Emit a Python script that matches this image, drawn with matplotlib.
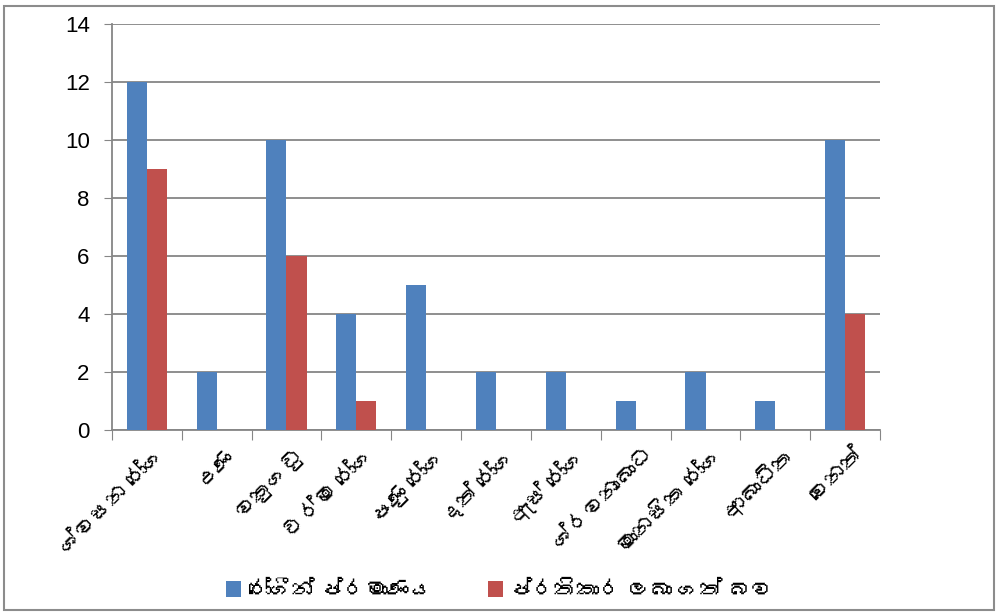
import matplotlib
matplotlib.use("Agg")
import matplotlib.pyplot as plt
from matplotlib import font_manager
from matplotlib.ft2font import FT2Font
from matplotlib.patches import Rectangle
import numpy as np

categories = ["ශ්වසන රෝග", "උණ", "වකුගඩු", "චර්ම රෝග", "පණු රෝග", "දත් රෝග",
              "ඇස් රෝග", "ශ්රවනාබාධ", "මානසික රෝග", "ආබාධිත", "වෙනත්"]
patients = [12, 2, 10, 4, 5, 2, 2, 1, 2, 1, 10]
treated = [9, 0, 6, 1, 0, 0, 0, 0, 0, 0, 4]
series_names = ["රෝගීන් ප්රමාණය", "ප්රතිකාර ලබා ගත් බව"]
yticks = [0, 2, 4, 6, 8, 10, 12, 14]


def findSinhalaFont():
	# look for any installed font that actually has Sinhala glyphs
	for f in font_manager.fontManager.ttflist:
		try:
			cmap = FT2Font(f.fname).get_charmap()
		except Exception:
			continue
		if 0x0DC1 in cmap and 0x0DBB in cmap:
			return f.name
	return None


sinhala = findSinhalaFont()
families = ["Liberation Sans", "DejaVu Sans"]
if sinhala:
	families = ["Liberation Sans", sinhala, "DejaVu Sans"]
plt.rcParams['font.family'] = families

fig = plt.figure(figsize=(9.99, 6.16), dpi=100)
ax = fig.add_axes([0.112, 0.302, 0.769, 0.659])

x = np.arange(len(categories))
w = 0.287
ax.bar(x - w / 2, patients, w, color='#4F81BD', label=series_names[0], zorder=3)
ax.bar(x + w / 2, treated, w, color='#C0504D', label=series_names[1], zorder=3)

ax.set_xlim(-0.5, len(categories) - 0.5)
ax.set_ylim(0, 14)
ax.set_yticks(yticks)
ax.tick_params(axis='y', labelsize=16, length=6, color='#868686', pad=10)
ax.yaxis.grid(True, color='#868686', linewidth=1.3, zorder=0)

ax.set_xticks(np.arange(len(categories) + 1) - 0.5)
ax.set_xticklabels([])
ax.tick_params(axis='x', length=7, color='#868686')
for i, name in enumerate(categories):
	ax.text(i + 0.12, -0.5, name, rotation=45, ha='right', va='top',
		rotation_mode='anchor', fontsize=16, transform=ax.transData)

for side in ['top', 'right']:
	ax.spines[side].set_visible(False)
for side in ['left', 'bottom']:
	ax.spines[side].set_color('#868686')
	ax.spines[side].set_linewidth(1.3)

fig.legend(loc='center', bbox_to_anchor=(0.5, 0.04), ncol=2, frameon=False,
	fontsize=16, handlelength=0.7, handleheight=0.7, handletextpad=0.3, columnspacing=2.5)

fig.patches.append(Rectangle((0.004, 0.009), 0.991, 0.982, transform=fig.transFigure,
	fill=False, edgecolor='#8c8c8c', linewidth=1.5))

fig.savefig("out.png", dpi=100)
